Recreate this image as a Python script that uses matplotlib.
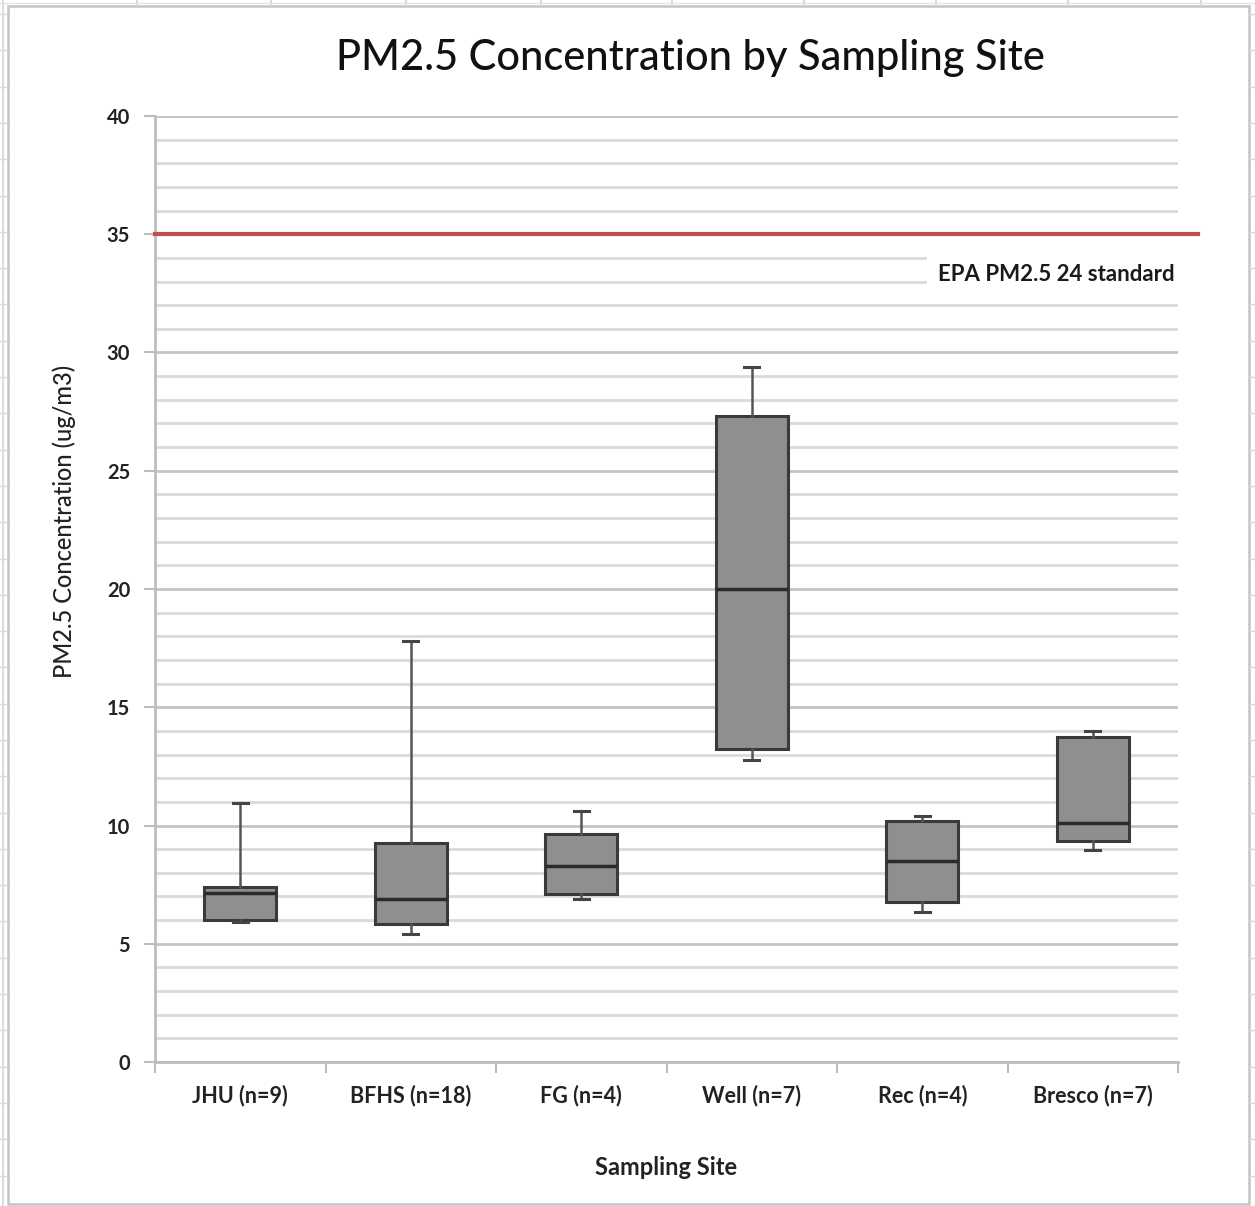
import numpy as np
import matplotlib
matplotlib.use("Agg")
import matplotlib.pyplot as plt
from matplotlib.ticker import MultipleLocator

plt.rcParams['font.family'] = ['Lato', 'DejaVu Sans']

# data
sites = ['JHU (n=9)', 'BFHS (n=18)', 'FG (n=4)', 'Well (n=7)', 'Rec (n=4)', 'Bresco (n=7)']
whis_lo = [5.9, 5.4, 6.9, 12.75, 6.35, 8.95]
q1 = [6.0, 5.85, 7.1, 13.25, 6.75, 9.35]
median = [7.15, 6.9, 8.3, 20.0, 8.5, 10.1]
q3 = [7.4, 9.25, 9.65, 27.3, 10.2, 13.75]
whis_hi = [10.95, 17.8, 10.6, 29.4, 10.4, 14.0]
epa_limit = 35
epa_label = 'EPA PM2.5 24 standard'

W, H = 1255, 1206
fig = plt.figure(figsize=(W / 100, H / 100), dpi=100)

# spreadsheet backdrop + chart frame (pixel coords)
bg = fig.add_axes([0, 0, 1, 1], zorder=0)
bg.set_xlim(0, W)
bg.set_ylim(H, 0)
bg.axis('off')
for x in [137, 271, 406, 541, 672, 804, 936, 1068, 1201]:
    bg.plot([x, x], [0, 6], color='#d0d0d0', lw=1.2)
for y in np.arange(14, H, 36.3):
    bg.plot([0, 8], [y, y], color='#d8d8d8', lw=1.0)
    bg.plot([1249, W], [y, y], color='#d8d8d8', lw=1.0)
bg.plot([3, 3], [0, H], color='#dcdcdc', lw=1.5)
bg.plot([0, W], [3, 3], color='#e4e4e4', lw=1.0)
bg.add_patch(plt.Rectangle((8, 6), 1241, 1198, fill=True, facecolor='white',
                           edgecolor='#c4c4c4', lw=1.8))

ax = fig.add_axes([155 / W, (H - 1062) / H, 1023 / W, 946 / H], zorder=1)
ax.set_facecolor('white')

stats = []
for i in range(len(sites)):
    stats.append(dict(med=median[i], q1=q1[i], q3=q3[i],
                      whislo=whis_lo[i], whishi=whis_hi[i], label=sites[i]))

pos = np.arange(len(sites))
ax.bxp(stats, positions=pos, widths=0.42, capwidths=0.09, showfliers=False,
       patch_artist=True,
       boxprops=dict(facecolor='#8f8f8f', edgecolor='#3a3a3a', lw=2.2),
       medianprops=dict(color='#2a2a2a', lw=2.5),
       whiskerprops=dict(color='#555555', lw=1.8),
       capprops=dict(color='#444444', lw=2.2), zorder=3)

ax.set_ylim(0, 40)
ax.set_xlim(-0.5, len(sites) - 0.5)

# gridlines
ax.yaxis.set_major_locator(MultipleLocator(5))
ax.yaxis.set_minor_locator(MultipleLocator(1))
ax.grid(which='major', axis='y', color='#c4c4c4', lw=2, zorder=0)
ax.grid(which='minor', axis='y', color='#dadada', lw=2, zorder=0)
ax.set_axisbelow(True)

# EPA standard
ax.axhline(epa_limit, xmin=0, xmax=1.0196, color='#c0504d', lw=3,
           clip_on=False, zorder=4)
ax.text(0.997, 33.3, epa_label, transform=ax.get_yaxis_transform(),
        ha='right', va='center', fontsize=16, fontweight='bold',
        color='#1a1a1a',
        bbox=dict(boxstyle='square,pad=0.5', facecolor='white',
                  edgecolor='none'), zorder=5)

# axes styling
for s in ['top', 'right']:
    ax.spines[s].set_visible(False)
for s in ['left', 'bottom']:
    ax.spines[s].set_color('#bdbdbd')
    ax.spines[s].set_linewidth(2)

ax.set_xticks(np.arange(-0.5, len(sites), 1.0))
ax.set_xticklabels([])
ax.set_xticks(pos, minor=True)
ax.set_xticklabels(sites, minor=True, fontsize=15.5, color='#222222')
ax.tick_params(axis='x', which='major', length=8, width=1.5, color='#bdbdbd')
ax.tick_params(axis='x', which='minor', length=0, pad=16)
ax.tick_params(axis='y', which='major', length=8, width=1.5, color='#bdbdbd',
               labelsize=14.5, labelcolor='#222222', pad=10)
ax.tick_params(axis='y', which='minor', length=0)
for lab in ax.get_yticklabels() + ax.get_xticklabels(minor=True):
    lab.set_fontweight('bold')

ax.set_xlabel('Sampling Site', fontsize=17, color='#222222', labelpad=36,
              fontweight='bold')
ax.set_ylabel('PM2.5 Concentration (ug/m3)', fontsize=17, color='#222222',
              fontweight='medium')
ax.yaxis.set_label_coords(-0.077, 0.571)

fig.text(690 / W, 1 - 58 / H, 'PM2.5 Concentration by Sampling Site',
         ha='center', va='center', fontsize=30, fontweight='medium',
         color='#111111')

fig.savefig('out.png', dpi=100)
